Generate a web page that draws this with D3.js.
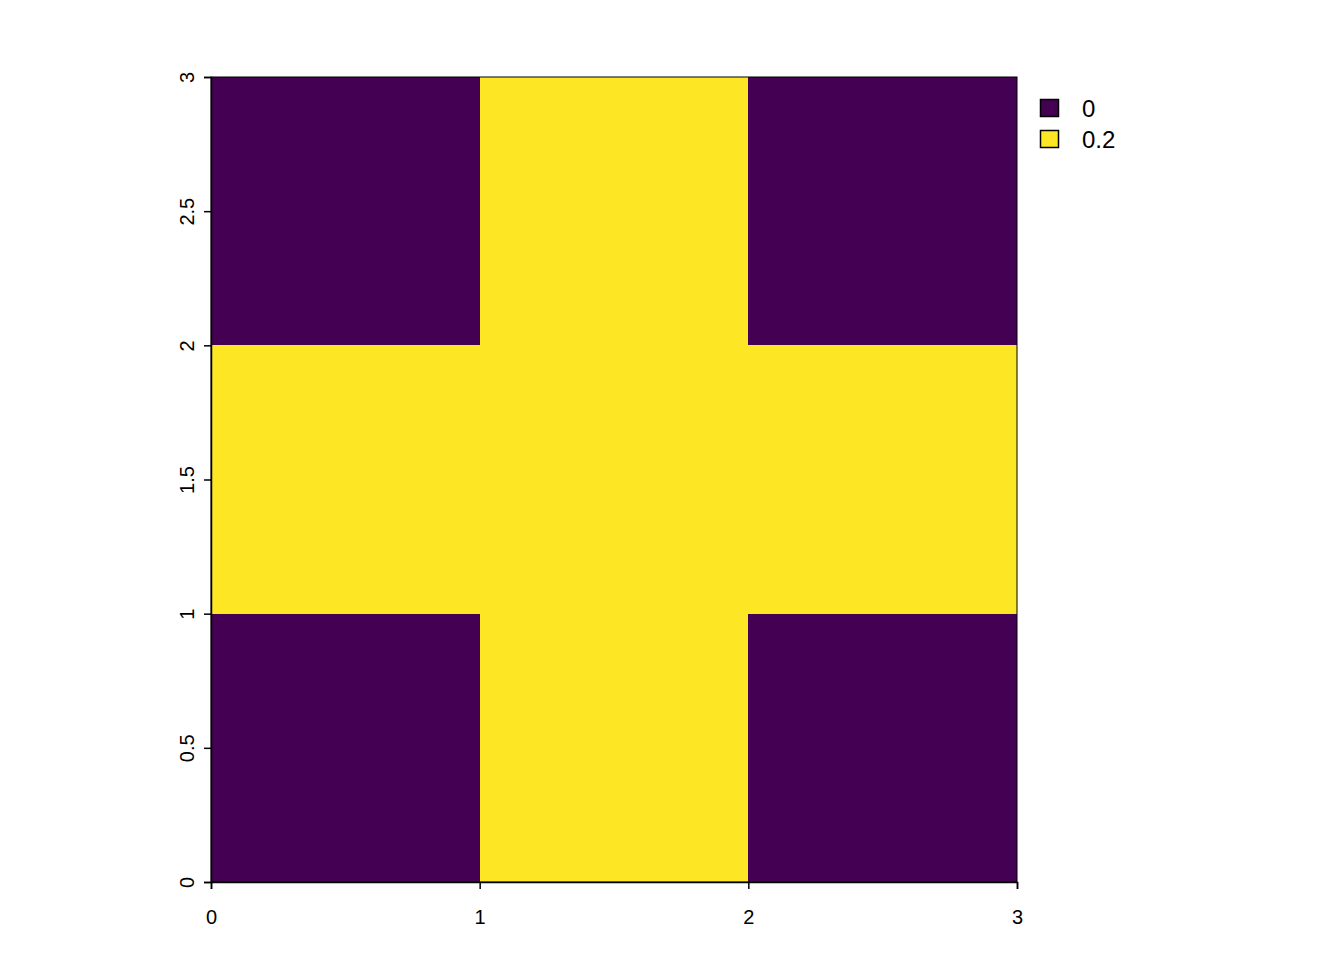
<!DOCTYPE html>
<html><head><meta charset="utf-8">
<script src="https://cdn.jsdelivr.net/npm/d3@7"></script>
<style>body{margin:0;background:#fff}svg{display:block}text{font-family:"Liberation Sans",Arial,sans-serif}</style>
</head><body>
<svg id="c" width="1344" height="960"></svg>
<script>
// grid rows listed from y=2..3 (top) down to y=0..1 (bottom)
const xCells = [0, 1, 2];
const yCells = [2, 1, 0];
const values = [
  [0, 0.2, 0],
  [0.2, 0.2, 0.2],
  [0, 0.2, 0]
];
const legendValues = [0, 0.2];
const legendLabels = ["0", "0.2"];
const legendColors = ["#440154", "#FDE725"];
const xTicks = [0, 1, 2, 3];
const yTicks = [0, 0.5, 1, 1.5, 2, 2.5, 3];

const svg = d3.select("#c");
const x = d3.scaleLinear().domain([0, 3]).range([211, 1017]);
const y = d3.scaleLinear().domain([0, 3]).range([882, 77]);
const color = d3.scaleOrdinal().domain(legendValues).range(legendColors);

const cells = [];
values.forEach((row, i) => row.forEach((v, j) => cells.push({x: xCells[j], y: yCells[i], v})));
svg.append("g").selectAll("rect").data(cells).join("rect")
  .attr("x", d => x(d.x)).attr("y", d => y(d.y + 1))
  .attr("width", d => x(d.x + 1) - x(d.x)).attr("height", d => y(d.y) - y(d.y + 1))
  .attr("fill", d => color(d.v)).attr("shape-rendering", "crispEdges");

svg.append("rect").attr("x", x(0)).attr("y", y(3)).attr("width", x(3) - x(0)).attr("height", y(0) - y(3))
  .attr("fill", "none").attr("stroke", "#000").attr("stroke-width", 1);

const xa = svg.append("g").attr("transform", `translate(0,${y(0)})`)
  .call(d3.axisBottom(x).tickValues(xTicks).tickFormat(d3.format("d")).tickSize(7));
const ya = svg.append("g").attr("transform", `translate(${x(0)},0)`)
  .call(d3.axisLeft(y).tickValues(yTicks).tickFormat(d => String(d)).tickSize(7));
[xa, ya].forEach(a => {
  a.select(".domain").attr("stroke", "#000").attr("stroke-width", 1.5);
  a.selectAll(".tick line").attr("stroke", "#000").attr("stroke-width", 1.5);
  a.selectAll("text").attr("font-size", 20).attr("fill", "#000").attr("font-family", '"Liberation Sans",Arial,sans-serif');
});
xa.selectAll(".tick text").attr("dy", null).attr("y", 42);
ya.selectAll(".tick text").attr("x", null).attr("dy", null).attr("y", null)
  .attr("text-anchor", "middle")
  .attr("transform", "translate(-17,0) rotate(-90)");

const lg = svg.append("g");
const ly = d3.scalePoint().domain(legendLabels).range([108, 139]);
legendLabels.forEach((l, i) => {
  lg.append("rect").attr("x", 1040.5).attr("y", ly(l) - 8.5).attr("width", 18).attr("height", 17)
    .attr("fill", legendColors[i]).attr("stroke", "#000").attr("stroke-width", 1.5);
  lg.append("text").attr("x", 1082).attr("y", ly(l) + 9).attr("font-size", 24).text(l);
});
</script>
</body></html>
